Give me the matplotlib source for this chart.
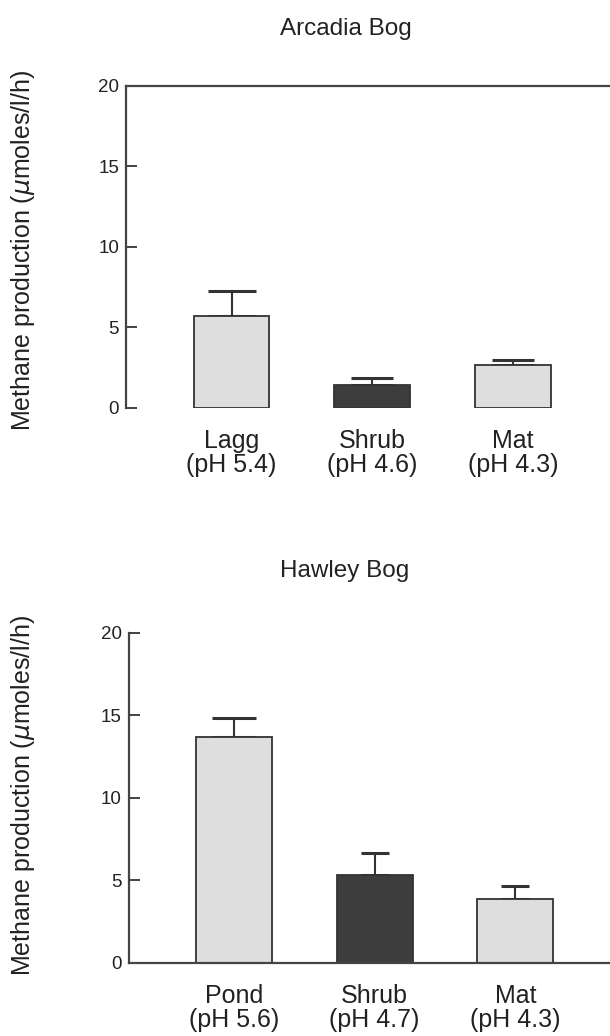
import numpy as np
import matplotlib.pyplot as plt

plt.rcParams['font.family'] = ['Liberation Sans', 'DejaVu Sans']

# Arcadia Bog
arc_sites = ["Lagg", "Shrub", "Mat"]
arc_ph = ["(pH 5.4)", "(pH 4.6)", "(pH 4.3)"]
arc_mean = [5.7, 1.45, 2.7]
arc_err = [1.55, 0.42, 0.28]

# Hawley Bog
haw_sites = ["Pond", "Shrub", "Mat"]
haw_ph = ["(pH 5.6)", "(pH 4.7)", "(pH 4.3)"]
haw_mean = [13.7, 5.35, 3.85]
haw_err = [1.15, 1.3, 0.8]

yticks = [0, 5, 10, 15, 20]

light = "#dedede"
dark = "#3d3d3d"
edge = "#333333"
txt = "#222222"

fig = plt.figure(figsize=(6.1, 10.36), dpi=100)
ax1 = fig.add_axes([0.2066, 0.6062, 0.80, 0.3108])
ax2 = fig.add_axes([0.2107, 0.0705, 0.80, 0.3185])


def draw_panel(ax, sites, ph, mean, err, caps, spines_on):
    x = np.arange(1, len(sites) + 1)
    colors = [light, dark, light]
    ax.bar(x, mean, width=0.54, color=colors, edgecolor=edge, linewidth=1.3, zorder=2)
    for xi, m, e, c in zip(x, mean, err, caps):
        ax.errorbar(xi, m, yerr=[[0], [e]], fmt="none", ecolor=edge,
                    elinewidth=1.5, capsize=c, capthick=2.2, zorder=1)
    ax.set_xlim(0.25, 3.72)
    ax.set_ylim(0, 20)
    ax.set_yticks(yticks)
    ax.set_xticks(x)
    ax.set_xticklabels([s + "\n" + p for s, p in zip(sites, ph)],
                       fontsize=18, linespacing=1.02, color=txt)
    ax.tick_params(axis="x", length=0, pad=15)
    ax.tick_params(axis="y", direction="in", length=8, width=1.2,
                   labelsize=13.5, pad=5, colors=txt)
    for side in ["top", "bottom", "left", "right"]:
        ax.spines[side].set_visible(side in spines_on)
        ax.spines[side].set_linewidth(1.6)
        ax.spines[side].set_color("#444444")


draw_panel(ax1, arc_sites, arc_ph, arc_mean, arc_err, [17, 15, 15], ["top", "left"])
draw_panel(ax2, haw_sites, haw_ph, haw_mean, haw_err, [16, 10, 10], ["bottom", "left"])

fig.text(346 / 610, 1 - 29 / 1036, "Arcadia Bog", ha="center", va="center",
         fontsize=17.5, color=txt)
fig.text(345 / 610, 1 - 571 / 1036, "Hawley Bog", ha="center", va="center",
         fontsize=17.5, color=txt)

ylab = "Methane production ($\\mu$moles/l/h)"
fig.text(23 / 610, 1 - 250 / 1036, ylab, rotation=90, ha="center", va="center",
         fontsize=18, color=txt)
fig.text(23 / 610, 1 - 795 / 1036, ylab, rotation=90, ha="center", va="center",
         fontsize=18, color=txt)

fig.savefig("out.png", dpi=100)
